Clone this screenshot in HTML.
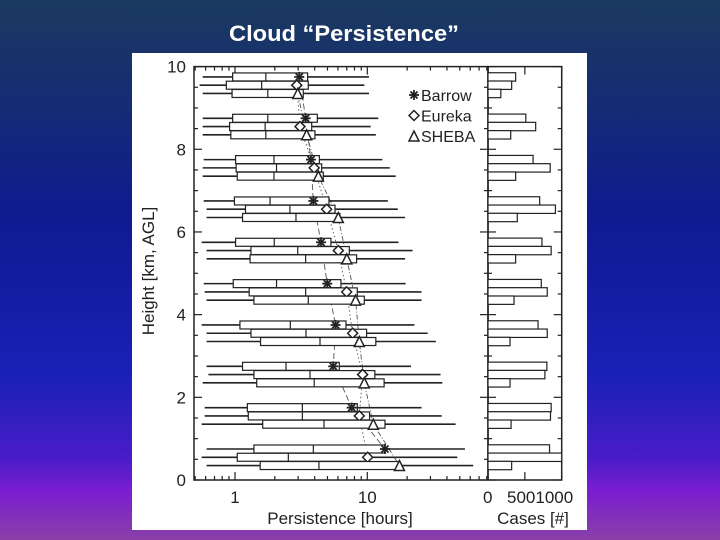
<!DOCTYPE html>
<html><head><meta charset="utf-8"><style>
html,body{margin:0;padding:0;width:720px;height:540px;overflow:hidden}
body{background:linear-gradient(180deg,#1b3a5e 0%,#142a78 22%,#0f1a90 40%,#1a20b8 70%,#4a1cc8 85%,#7a1ed0 91%,#8a40a8 100%);font-family:"Liberation Sans",sans-serif}
svg{position:absolute;left:0;top:0}
</style></head><body>
<svg id="c" width="720" height="540" xmlns="http://www.w3.org/2000/svg">
<text x="344" y="41" text-anchor="middle" fill="#fff" font-family="Liberation Sans,sans-serif" font-weight="bold" font-size="22" textLength="230" lengthAdjust="spacingAndGlyphs">Cloud “Persistence”</text>
<rect x="132" y="53" width="455" height="477" fill="#fff"/>
<g id="g"></g>
</svg>
<script>
// data: groups (base height km) top to bottom, each site: [whiskerMin, q1, median, q3, whiskerMax, marker]
const groupHeights=[9,8,7,6,5,4,3,2,1,0];
const sites=["Barrow","Eureka","SHEBA"];
const rowOffsets=[0.75,0.55,0.35];
const barrow=[[0.57,0.96,1.71,3.54,10.3,3.06],[0.57,0.96,1.77,4.19,12.1,3.42],[0.58,1.01,1.97,4.34,13.0,3.75],[0.58,0.99,1.84,5.13,14.3,3.91],[0.56,1.01,1.98,5.31,17.2,4.47],[0.58,0.97,2.06,6.32,19.5,4.98],[0.56,1.09,2.62,6.90,22.7,5.76],[0.61,1.14,2.43,6.14,21.4,5.53],[0.59,1.24,3.23,8.40,25.7,7.62],[0.61,1.39,3.91,13.6,54.7,13.6]];
const eureka=[[0.54,0.86,1.59,3.58,9.5,2.93],[0.57,0.91,1.69,3.80,10.6,3.10],[0.57,1.02,2.06,4.52,14.8,3.97],[0.61,1.20,2.60,5.70,17.0,4.93],[0.61,1.32,2.98,7.31,22.0,6.04],[0.59,1.28,3.42,8.40,25.7,6.98],[0.61,1.32,3.44,9.88,28.6,7.75],[0.63,1.39,3.69,11.4,35.8,9.22],[0.59,1.26,3.23,10.4,36.5,8.70],[0.56,1.04,2.53,10.2,47.9,10.06]];
const sheba=[[0.57,0.95,1.77,3.28,10.3,2.98],[0.57,0.93,1.71,4.02,11.6,3.48],[0.57,1.04,1.97,4.65,16.4,4.27],[0.61,1.14,2.89,6.21,19.3,6.04],[0.61,1.30,3.42,8.30,19.3,7.0],[0.61,1.39,3.58,9.49,25.7,8.16],[0.61,1.56,4.39,11.6,33.0,8.70],[0.57,1.46,3.97,13.4,36.9,9.49],[0.56,1.62,4.71,13.6,46.5,11.1],[0.61,1.55,4.31,17.5,63.2,17.5]];
const casesBarrow=[375,513,612,701,732,723,679,799,857,835];
const casesEureka=[321,647,844,915,857,804,804,772,848,1000];
const casesSheba=[174,308,375,397,375,353,299,299,313,321];
const yTicks=[0,2,4,6,8,10];
const xTicks=[1,10];
const caseTicks=[0,500,1000];

const NS="http://www.w3.org/2000/svg";
const G=document.getElementById('g');
function el(t,a,p){const e=document.createElementNS(NS,t);for(const k in a)e.setAttribute(k,a[k]);(p||G).appendChild(e);return e;}
const L=194,R=488,T=66.6,B=480,HR=561.7;
const y=h=>B-(B-T)*h/10;
const xlog=v=>235+132.3*Math.log10(v);
const xc=c=>R+(HR-R)*c/1000;
const K="#222";

// axes frames
let a=el('rect',{x:L,y:T,width:R-L,height:B-T,fill:'none',stroke:K,'stroke-width':1.5});

a=el('rect',{x:R,y:T,width:HR-R,height:B-T,fill:'none',stroke:K,'stroke-width':1.5});


// y ticks
for(let h=0;h<=10;h+=0.5){const maj=yTicks.includes(h);const len=maj?8:4;
 el('line',{x1:L,x2:L+len,y1:y(h),y2:y(h),stroke:K,'stroke-width':1.2});
 el('line',{x1:R-len,x2:R+len,y1:y(h),y2:y(h),stroke:K,'stroke-width':1.2});
 el('line',{x1:HR-len,x2:HR,y1:y(h),y2:y(h),stroke:K,'stroke-width':1.2});}
yTicks.forEach(h=>{const t=el('text',{x:186,y:y(h)+6,'text-anchor':'end','font-size':17,fill:K});t.textContent=h;
 });
// x ticks log
for(let d=0.1;d<=10;d*=10){for(let m=1;m<10;m++){const v=+(d*m).toFixed(3);if(v<0.5)continue;const x=xlog(v);if(x>R-1)continue;
 const len=(m===1)?8:4;
 el('line',{x1:x,x2:x,y1:B,y2:B-len,stroke:K,'stroke-width':1.2});
 el('line',{x1:x,x2:x,y1:T,y2:T+len,stroke:K,'stroke-width':1.2});}}
xTicks.forEach(v=>{const t=el('text',{x:xlog(v),y:503,'text-anchor':'middle','font-size':17,fill:K});t.textContent=v;
 });
caseTicks.forEach(c=>{el('line',{x1:xc(c),x2:xc(c),y1:B,y2:B-8,stroke:K,'stroke-width':1.2});
 el('line',{x1:xc(c),x2:xc(c),y1:T,y2:T+8,stroke:K,'stroke-width':1.2});});
let t=el('text',{x:483,y:503,'font-size':17,fill:K});t.textContent="0";
t=el('text',{x:507,y:503,'font-size':17,fill:K});t.textContent="5001000";
t=el('text',{x:340,y:524,'text-anchor':'middle','font-size':17,fill:K});t.textContent="Persistence [hours]";
t=el('text',{x:533,y:524,'text-anchor':'middle','font-size':17,fill:K});t.textContent="Cases [#]";
t=el('text',{x:154,y:271,'text-anchor':'middle','font-size':17,fill:K,transform:'rotate(-90 154 271)'});t.textContent="Height [km, AGL]";

const all=[barrow,eureka,sheba];
const dashes=["6,3","1.5,2.5","5,2,1,2"];
// connecting lines
all.forEach((s,si)=>{let d='';s.forEach((r,gi)=>{d+=(gi?'L':'M')+xlog(r[5]).toFixed(1)+','+y(groupHeights[gi]+rowOffsets[si]).toFixed(1);});
 const p=el('path',{d:d,fill:'none',stroke:'#555','stroke-width':0.9,'stroke-dasharray':dashes[si]});
 });

function marker(si,cx,cy,name){let m;
 if(si===0){m=el('g',{stroke:K,'stroke-width':1.8,fill:'none'});
  for(let k=0;k<4;k++){const ang=k*Math.PI/4,dx=5*Math.cos(ang),dy=5*Math.sin(ang);el('line',{x1:cx-dx,y1:cy-dy,x2:cx+dx,y2:cy+dy},m);}}
 else if(si===1){m=el('path',{d:`M${cx-5},${cy}L${cx},${cy-5}L${cx+5},${cy}L${cx},${cy+5}Z`,fill:'#fff',stroke:K,'stroke-width':1.5});}
 else {m=el('path',{d:`M${cx-5},${cy+5}L${cx},${cy-5}L${cx+5},${cy+5}Z`,fill:'#fff',stroke:K,'stroke-width':1.5});}
 return m;}

const cases=[casesBarrow,casesEureka,casesSheba];
groupHeights.forEach((gh,gi)=>{all.forEach((s,si)=>{const r=s[gi];const cy=y(gh+rowOffsets[si]);
 let w=el('line',{x1:xlog(r[0]),x2:xlog(r[4]),y1:cy,y2:cy,stroke:K,'stroke-width':1.6});
 
 let b=el('rect',{x:xlog(r[1]),y:cy-4,width:xlog(r[3])-xlog(r[1]),height:8,fill:'#fff',stroke:K,'stroke-width':1.2});
 
 let md=el('line',{x1:xlog(r[2]),x2:xlog(r[2]),y1:cy-4,y2:cy+4,stroke:K,'stroke-width':1.2});
 
 marker(si,xlog(r[5]),cy,sites[si].toLowerCase()+'-marker');
 let hb=el('rect',{x:R,y:cy-4.2,width:xc(cases[si][gi])-R,height:8.4,fill:'#fff',stroke:K,'stroke-width':1.2});
 
});});

// legend
sites.forEach((s,si)=>{const ly=95+20.5*si;
 marker(si,414,ly,'legend-'+s.toLowerCase()+'-symbol');
 const tx=el('text',{x:421,y:ly+6,'font-size':16,fill:K});tx.textContent=s;
 });
</script>
</body></html>
